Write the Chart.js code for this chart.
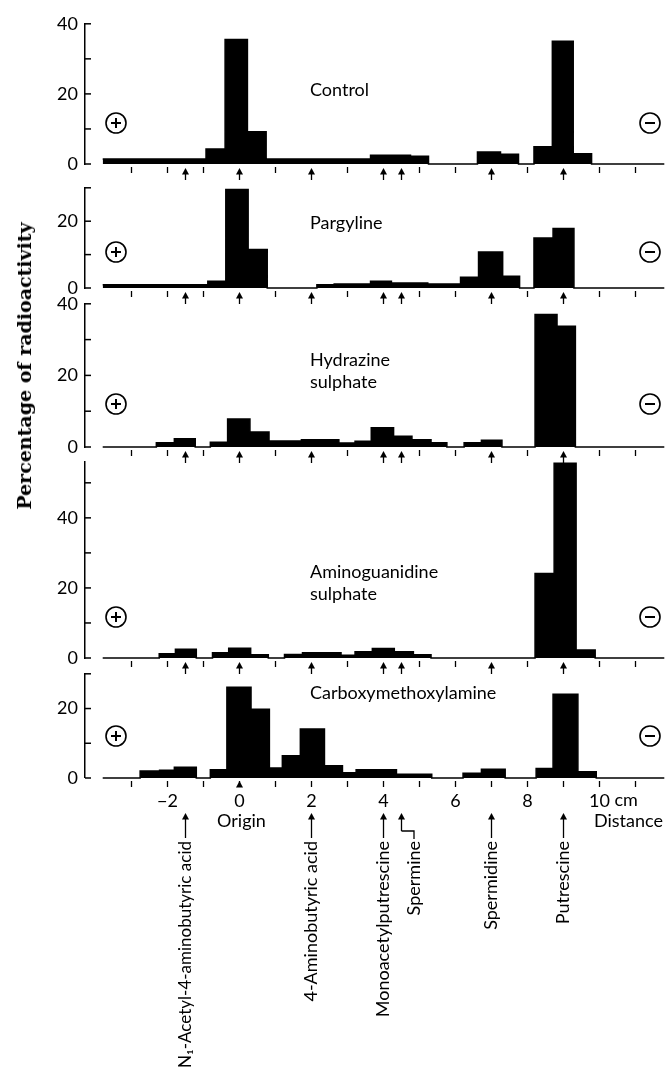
<!DOCTYPE html>
<html lang="en">
<head>
    <meta charset="UTF-8">
    <title>Percentage of radioactivity</title>
    <script src="https://cdn.jsdelivr.net/npm/chart.js"></script>
    <style>
        body {
            margin: 0;
            background: #fff;
        }
        #wrap {
            position: relative;
            width: 665px;
            height: 1072px;
            overflow: hidden;
            background: #fff;
        }
        #wrap canvas {
            position: absolute;
            left: 0;
        }
        #yTitle {
            position: absolute;
            left: 24px;
            top: 366px;
            transform: translate(-50%, -50%) rotate(-90deg);
            white-space: nowrap;
            font-family: 'DejaVu Serif', serif;
            font-weight: bold;
            font-size: 19px;
            color: #000;
        }
    </style>
</head>
<body>
    <div id="wrap">
        <canvas id="p0"></canvas>
        <canvas id="p1"></canvas>
        <canvas id="p2"></canvas>
        <canvas id="p3"></canvas>
        <canvas id="p4"></canvas>
        <div id="yTitle">Percentage of radioactivity</div>
    </div>

    <script>
        // distance along the strip (cm) and marker positions
        const tickCm = [-3, -2, -1, 0, 1, 2, 3, 4, 5, 6, 7, 8, 9, 10, 11];
        const markerCm = [-1.5, 0, 2, 4, 4.5, 7, 9];
        const markerNames = ['N₁-Acetyl-4-aminobutyric acid', 'Origin', '4-Aminobutyric acid',
            'Monoacetylputrescine', 'Spermine', 'Spermidine', 'Putrescine'];

        // strip edges (cm) and % radioactivity in each strip
        const controlEdges = [-3.8, -0.93, -0.40, 0.22, 0.74, 3.64, 4.75, 5.25, 6.61, 7.25, 7.75, 8.18, 8.69, 9.27, 9.78, 11.8];
        const controlValues = [1.4, 4.3, 35.5, 9.2, 1.4, 2.5, 2.2, 0, 3.4, 2.8, 0, 4.9, 35.0, 2.9, 0];

        const pargylineEdges = [-3.8, -0.88, -0.38, 0.24, 0.77, 2.15, 2.63, 3.64, 4.22, 5.23, 6.14, 6.64, 7.31, 7.78, 8.18, 8.71, 9.29, 11.8];
        const pargylineValues = [1.0, 2.0, 29.5, 11.5, 0, 1.0, 1.2, 2.0, 1.5, 1.2, 3.2, 10.8, 3.5, 0, 15.0, 17.8, 0];

        const hydrazineEdges = [-3.8, -2.31, -1.81, -1.23, -0.81, -0.33, 0.29, 0.82, 1.72, 2.76, 3.21, 3.66, 4.28, 4.79, 5.32, 5.76, 6.24, 6.72, 7.29, 8.21, 8.82, 9.33, 11.8];
        const hydrazineValues = [0, 1.2, 2.3, 0, 1.3, 7.8, 4.2, 1.7, 2.0, 1.1, 1.6, 5.4, 3.0, 2.0, 1.2, 0, 1.2, 1.9, 0, 37.0, 33.7, 0];

        const aminoguanidineEdges = [-3.8, -2.23, -1.78, -1.20, -0.75, -0.30, 0.31, 0.80, 1.25, 1.75, 2.82, 3.21, 3.69, 4.30, 4.83, 5.32, 8.21, 8.74, 9.35, 9.88, 11.8];
        const aminoguanidineValues = [0, 1.2, 2.5, 0, 1.5, 2.8, 0.9, 0, 1.0, 1.5, 0.8, 1.8, 2.7, 1.8, 0.9, 0, 24.1, 55.6, 2.3, 0];

        const carboxyEdges = [-3.8, -2.76, -2.22, -1.81, -1.20, -0.81, -0.35, 0.32, 0.83, 1.19, 1.69, 2.36, 2.86, 3.24, 4.36, 5.34, 6.21, 6.72, 7.38, 8.24, 8.71, 9.40, 9.91, 11.8];
        const carboxyValues = [0, 2.0, 2.2, 3.1, 0, 2.4, 26.1, 19.8, 2.9, 6.4, 14.1, 3.5, 1.5, 2.4, 1.1, 0, 1.4, 2.5, 0, 2.7, 24.1, 1.8, 0];

        // panel layout (pixels)
        const panels = [
            { title: ['Control'], edges: controlEdges, values: controlValues, yMax: 40, top: 20, base: 164, titleY: 90, signY: 123 },
            { title: ['Pargyline'], edges: pargylineEdges, values: pargylineValues, yMax: 30, top: 184, base: 288, titleY: 223, signY: 252 },
            { title: ['Hydrazine', 'sulphate'], edges: hydrazineEdges, values: hydrazineValues, yMax: 40, top: 300, base: 447, titleY: 360, signY: 404 },
            { title: ['Aminoguanidine', 'sulphate'], edges: aminoguanidineEdges, values: aminoguanidineValues, yMax: 56, top: 458, base: 658, titleY: 572, signY: 617 },
            { title: ['Carboxymethoxylamine'], edges: carboxyEdges, values: carboxyValues, yMax: 30, top: 670, base: 778, titleY: 693, signY: 736 }
        ];

        const W = 665, H = 1072;
        const AXIS_X = 85;
        const X_MIN = (AXIS_X - 239.5) / 36;
        const X_MAX = (W - 239.5) / 36;
        const SANS = 'Lato, "Open Sans", sans-serif';

        function arrowUp(ctx, x, yTop, yBottom) {
            ctx.beginPath();
            ctx.moveTo(x, yBottom);
            ctx.lineTo(x, yTop + 4);
            ctx.stroke();
            ctx.beginPath();
            ctx.moveTo(x, yTop);
            ctx.lineTo(x - 3.5, yTop + 6.5);
            ctx.lineTo(x + 3.5, yTop + 6.5);
            ctx.closePath();
            ctx.fill();
        }

        function signCircle(ctx, x, y, minus) {
            ctx.lineWidth = 1.6;
            ctx.beginPath();
            ctx.arc(x, y, 10, 0, Math.PI * 2);
            ctx.stroke();
            ctx.lineWidth = 2;
            ctx.beginPath();
            ctx.moveTo(x - 5, y);
            ctx.lineTo(x + 5, y);
            if (!minus) {
                ctx.moveTo(x, y - 5);
                ctx.lineTo(x, y + 5);
            }
            ctx.stroke();
        }

        // everything drawn around the bars: inward y ticks, strip ticks, arrows, names
        const decor = {
            id: 'decor',
            afterDraw(chart, args, opts) {
                const ctx = chart.ctx;
                const xs = chart.scales.x, ys = chart.scales.y;
                const base = ys.getPixelForValue(0);
                const off = chart.canvas.offsetTop;
                const last = opts.last;
                ctx.save();
                ctx.strokeStyle = '#000';
                ctx.fillStyle = '#000';

                // y ticks pointing into the plot
                ctx.lineWidth = 1.5;
                ys.ticks.forEach(t => {
                    if (t.value % 10 !== 0) return;
                    const y = ys.getPixelForValue(t.value);
                    ctx.beginPath();
                    ctx.moveTo(AXIS_X, y);
                    ctx.lineTo(AXIS_X + 6, y);
                    ctx.stroke();
                });

                // strip ticks and marker arrows under the baseline
                ctx.lineWidth = 1.3;
                tickCm.forEach(v => {
                    if (!last && markerCm.includes(v)) return;
                    const x = xs.getPixelForValue(v);
                    ctx.beginPath();
                    ctx.moveTo(x, base + 3);
                    ctx.lineTo(x, base + 9);
                    ctx.stroke();
                });
                if (!last) {
                    markerCm.forEach(v => arrowUp(ctx, xs.getPixelForValue(v), base + 4, base + 16));
                } else {
                    arrowUp(ctx, xs.getPixelForValue(0), base + 3, base + 9);
                }

                // panel name
                ctx.font = '18px ' + SANS;
                ctx.textAlign = 'left';
                ctx.textBaseline = 'middle';
                opts.title.forEach((line, i) => ctx.fillText(line, 310, opts.titleY - off + i * 22));

                // anode / cathode
                signCircle(ctx, 116, opts.signY - off, false);
                signCircle(ctx, 650, opts.signY - off, true);

                if (last) {
                    ctx.font = '18px ' + SANS;
                    ctx.textBaseline = 'middle';
                    ctx.textAlign = 'left';
                    ctx.fillText('cm', xs.getPixelForValue(10) + 15, 800 - off);
                    ctx.fillText('Distance', 594, 821 - off);
                    ctx.textAlign = 'center';
                    ctx.fillText('Origin', xs.getPixelForValue(0) + 2, 821 - off);

                    ctx.lineWidth = 1.3;
                    markerCm.forEach((v, i) => {
                        if (v === 0) return;
                        const x = xs.getPixelForValue(v);
                        let tx = x;
                        if (markerNames[i] === 'Spermine') {
                            tx = x + 12.5;
                            arrowUp(ctx, x, 813 - off, 831 - off);
                            ctx.beginPath();
                            ctx.moveTo(x, 831 - off);
                            ctx.lineTo(tx, 831 - off);
                            ctx.lineTo(tx, 839 - off);
                            ctx.stroke();
                        } else {
                            arrowUp(ctx, x, 813 - off, 838 - off);
                        }
                        ctx.save();
                        ctx.translate(tx, 841 - off);
                        ctx.rotate(-Math.PI / 2);
                        ctx.textAlign = 'right';
                        ctx.textBaseline = 'middle';
                        ctx.font = (i === 0 ? '17px ' : '18px ') + SANS;
                        ctx.fillText(markerNames[i], 0, 0);
                        ctx.restore();
                    });
                }
                ctx.restore();
            }
        };

        panels.forEach((p, idx) => {
            const last = idx === panels.length - 1;
            const padTop = 14;
            const canvasTop = p.top - padTop;
            const canvasH = last ? H - canvasTop : p.base + 22 - canvasTop;
            const xAxisH = last ? 30 : 0;
            const padBottom = last ? H - p.base - xAxisH : 22;

            const canvas = document.getElementById('p' + idx);
            canvas.width = W;
            canvas.height = canvasH;
            canvas.style.top = canvasTop + 'px';

            // histogram outline: each strip starts at its edge and holds its value
            const pts = p.values.map((v, i) => ({ x: p.edges[i], y: v }));
            pts.push({ x: p.edges[p.edges.length - 1], y: 0 });

            new Chart(canvas.getContext('2d'), {
                type: 'line',
                data: {
                    datasets: [{
                        data: pts,
                        stepped: 'before',
                        fill: 'origin',
                        backgroundColor: '#000',
                        borderColor: '#000',
                        borderWidth: 1.5,
                        pointRadius: 0,
                        clip: false
                    }]
                },
                options: {
                    responsive: false,
                    animation: false,
                    devicePixelRatio: 1,
                    layout: { padding: { top: padTop, bottom: padBottom, left: 0, right: 0 } },
                    scales: {
                        x: {
                            type: 'linear',
                            min: X_MIN,
                            max: X_MAX,
                            display: last,
                            grid: { display: false, drawTicks: false },
                            border: { display: false },
                            afterBuildTicks: s => {
                                s.ticks = tickCm.filter(v => v % 2 === 0 && v <= 10).map(v => ({ value: v }));
                            },
                            afterFit: s => { s.height = xAxisH; },
                            ticks: {
                                autoSkip: false,
                                maxRotation: 0,
                                padding: 12,
                                color: '#000',
                                font: { family: SANS, size: 18 },
                                callback: v => v < 0 ? '\u2212' + Math.abs(v) : String(v)
                            }
                        },
                        y: {
                            min: 0,
                            max: p.yMax,
                            position: 'left',
                            grid: { display: false, drawTicks: false },
                            border: { display: true, color: '#000', width: 1.5 },
                            afterFit: s => { s.width = AXIS_X; },
                            ticks: {
                                stepSize: 10,
                                autoSkip: false,
                                padding: 7,
                                color: '#000',
                                font: { family: SANS, size: 18 },
                                callback: v => v % 20 === 0 ? String(v) : ''
                            }
                        }
                    },
                    plugins: {
                        legend: { display: false },
                        tooltip: { enabled: false },
                        decor: { last: last, title: p.title, titleY: p.titleY, signY: p.signY }
                    }
                },
                plugins: [decor]
            });
        });
    </script>
</body>
</html>
